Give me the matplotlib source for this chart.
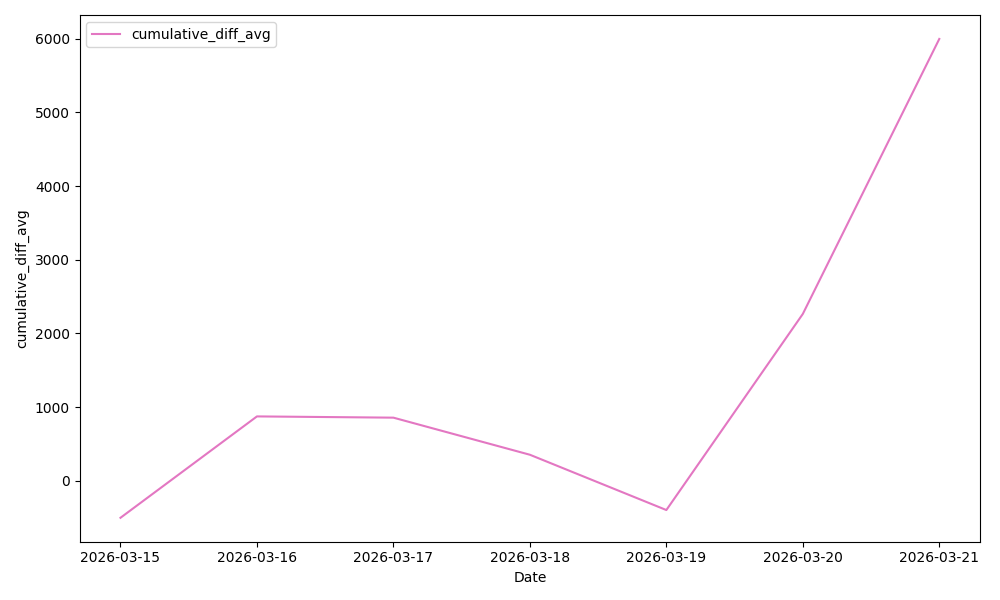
import pandas as pd
import matplotlib
matplotlib.use("Agg")
import matplotlib.pyplot as plt

dates = ["2026-03-15", "2026-03-16", "2026-03-17", "2026-03-18",
         "2026-03-19", "2026-03-20", "2026-03-21"]
cumulative_diff_avg = [-500, 875, 858, 355, -395, 2265, 5995]

x = pd.to_datetime(dates)

fig, ax = plt.subplots(figsize=(10, 6), dpi=100)
ax.plot(x, cumulative_diff_avg, color="#e377c2", label="cumulative_diff_avg")
ax.set_xticks(x)
ax.set_xticklabels(dates)
ax.set_xlabel("Date")
ax.set_ylabel("cumulative_diff_avg")
ax.legend(loc="upper left")
plt.tight_layout()
plt.savefig("out.png")
